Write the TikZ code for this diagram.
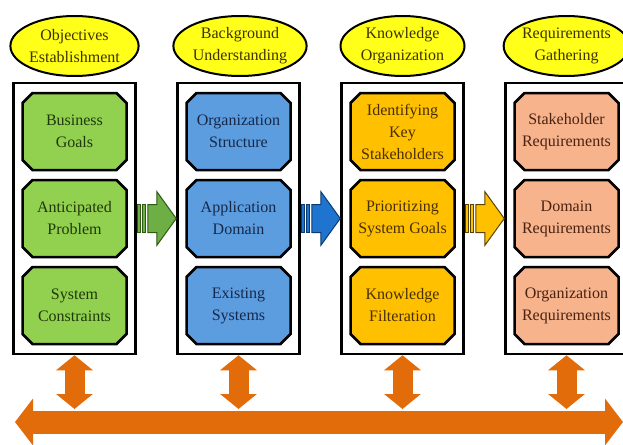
\documentclass[tikz,border=0pt]{standalone}
\usepackage{fontspec}
\setmainfont{Liberation Serif}
\usetikzlibrary{shapes.geometric,shapes.misc,arrows.meta,calc}

\definecolor{stageyellow}{HTML}{FFFF1A}
\definecolor{stagetext}{HTML}{3E3200}
\definecolor{goalgreen}{HTML}{92D050}
\definecolor{goaltext}{HTML}{1F380A}
\definecolor{infoblue}{HTML}{5C9DE0}
\definecolor{infotext}{HTML}{16284A}
\definecolor{orgamber}{HTML}{FFC000}
\definecolor{orgtext}{HTML}{4A2F00}
\definecolor{reqsalmon}{HTML}{F6B38C}
\definecolor{reqtext}{HTML}{4A2212}
\definecolor{linkorange}{HTML}{E36C0A}
\definecolor{flowgreen}{HTML}{6DAE45}
\definecolor{flowgreenline}{HTML}{2F5A14}
\definecolor{flowblue}{HTML}{1F74D0}
\definecolor{flowblueline}{HTML}{0C3A70}
\definecolor{flowamber}{HTML}{FFC000}
\definecolor{flowamberline}{HTML}{5A4200}

\tikzset{
  txt/.style={align=center, font=\fontsize{16}{22}\selectfont},
  stage/.style={txt, ellipse, draw=black, line width=2pt, fill=stageyellow,
    text=stagetext, minimum width=124pt, minimum height=60pt, inner sep=0pt},
  column/.style={draw=black, line width=2.5pt, fill=white,
    minimum width=122pt, minimum height=271pt, inner sep=0pt},
  task/.style={txt, chamfered rectangle, chamfered rectangle xsep=5pt,
    chamfered rectangle ysep=5pt, draw=black, line width=2.5pt,
    minimum width=104pt, minimum height=77pt, inner sep=0pt},
  green task/.style={task, fill=goalgreen, text=goaltext},
  blue task/.style={task, fill=infoblue, text=infotext},
  amber task/.style={task, fill=orgamber, text=orgtext},
  salmon task/.style={task, fill=reqsalmon, text=reqtext},
  link/.style={draw=linkorange, line width=20pt, shorten >=13pt,
    {Triangle[width=36pt,length=15pt]}-{Triangle[width=36pt,length=15pt]}},
  bus/.style={draw=linkorange, line width=23pt,
    {Triangle[width=46pt,length=18pt]}-{Triangle[width=46pt,length=18pt]}},
  greenflow/.style={fill=flowgreen, draw=flowgreenline, line width=1pt},
  blueflow/.style={fill=flowblue, draw=flowblueline, line width=1pt},
  amberflow/.style={fill=flowamber, draw=flowamberline, line width=1pt},
}

\begin{document}
\begin{tikzpicture}[x=1pt,y=-1pt]
  \useasboundingbox (0,0) rectangle (623,444);
  \clip (0,0) rectangle (623,444);

  % stage titles
  \node[stage] (s1) at (74.5,46) {Objectives\\Establishment};
  \node[stage] (s2) at (240,46) {Background\\Understanding};
  \node[stage] (s3) at (402.5,46) {Knowledge\\Organization};
  \node[stage] (s4) at (566.5,46) {Requirements\\Gathering};

  % columns
  \node[column] (c1) at (74.5,218.5) {};
  \node[column] (c2) at (238.5,218.5) {};
  \node[column] (c3) at (402.5,218.5) {};
  \node[column] (c4) at (566.5,218.5) {};

  % tasks
  \node[green task] (g1) at (74.5,131.5) {Business\\Goals};
  \node[green task] (g2) at (74.5,218.5) {Anticipated\\Problem};
  \node[green task] (g3) at (74.5,305.5) {System\\Constraints};
  \node[blue task] (b1) at (238.5,131.5) {Organization\\Structure};
  \node[blue task] (b2) at (238.5,218.5) {Application\\Domain};
  \node[blue task] (b3) at (238.5,305.5) {Existing\\Systems};
  \node[amber task] (a1) at (402.5,131.5) {Identifying\\Key\\Stakeholders};
  \node[amber task] (a2) at (402.5,218.5) {Prioritizing\\System Goals};
  \node[amber task] (a3) at (402.5,305.5) {Knowledge\\Filteration};
  \node[salmon task] (r1) at (566.5,131.5) {Stakeholder\\Requirements};
  \node[salmon task] (r2) at (566.5,218.5) {Domain\\Requirements};
  \node[salmon task] (r3) at (566.5,305.5) {Organization\\Requirements};

  % striped arrows between columns
  \draw[greenflow] ($(c1.east)+(1,-14)$) rectangle ++(3,28);
  \draw[greenflow] ($(c1.east)+(6,-14)$) rectangle ++(3,28);
  \draw[greenflow] ($(c1.east)+(11,-14)$) -- ($(c1.east)+(20,-14)$)
    -- ($(c1.east)+(20,-27)$) -- (c2.west) -- ($(c1.east)+(20,27)$)
    -- ($(c1.east)+(20,14)$) -- ($(c1.east)+(11,14)$) -- cycle;
  \draw[blueflow] ($(c2.east)+(1,-14)$) rectangle ++(3,28);
  \draw[blueflow] ($(c2.east)+(6,-14)$) rectangle ++(3,28);
  \draw[blueflow] ($(c2.east)+(11,-14)$) -- ($(c2.east)+(20,-14)$)
    -- ($(c2.east)+(20,-27)$) -- (c3.west) -- ($(c2.east)+(20,27)$)
    -- ($(c2.east)+(20,14)$) -- ($(c2.east)+(11,14)$) -- cycle;
  \draw[amberflow] ($(c3.east)+(1,-14)$) rectangle ++(3,28);
  \draw[amberflow] ($(c3.east)+(6,-14)$) rectangle ++(3,28);
  \draw[amberflow] ($(c3.east)+(11,-14)$) -- ($(c3.east)+(20,-14)$)
    -- ($(c3.east)+(20,-27)$) -- (c4.west) -- ($(c3.east)+(20,27)$)
    -- ($(c3.east)+(20,14)$) -- ($(c3.east)+(11,14)$) -- cycle;

  % shared bus
  \coordinate (busL) at (15,422);
  \coordinate (busR) at (623,422);
  \draw[bus] (busL) -- (busR);
  \draw[link] (c1.south) -- (c1.south |- busL);
  \draw[link] (c2.south) -- (c2.south |- busL);
  \draw[link] (c3.south) -- (c3.south |- busL);
  \draw[link] (c4.south) -- (c4.south |- busL);
\end{tikzpicture}
\end{document}
